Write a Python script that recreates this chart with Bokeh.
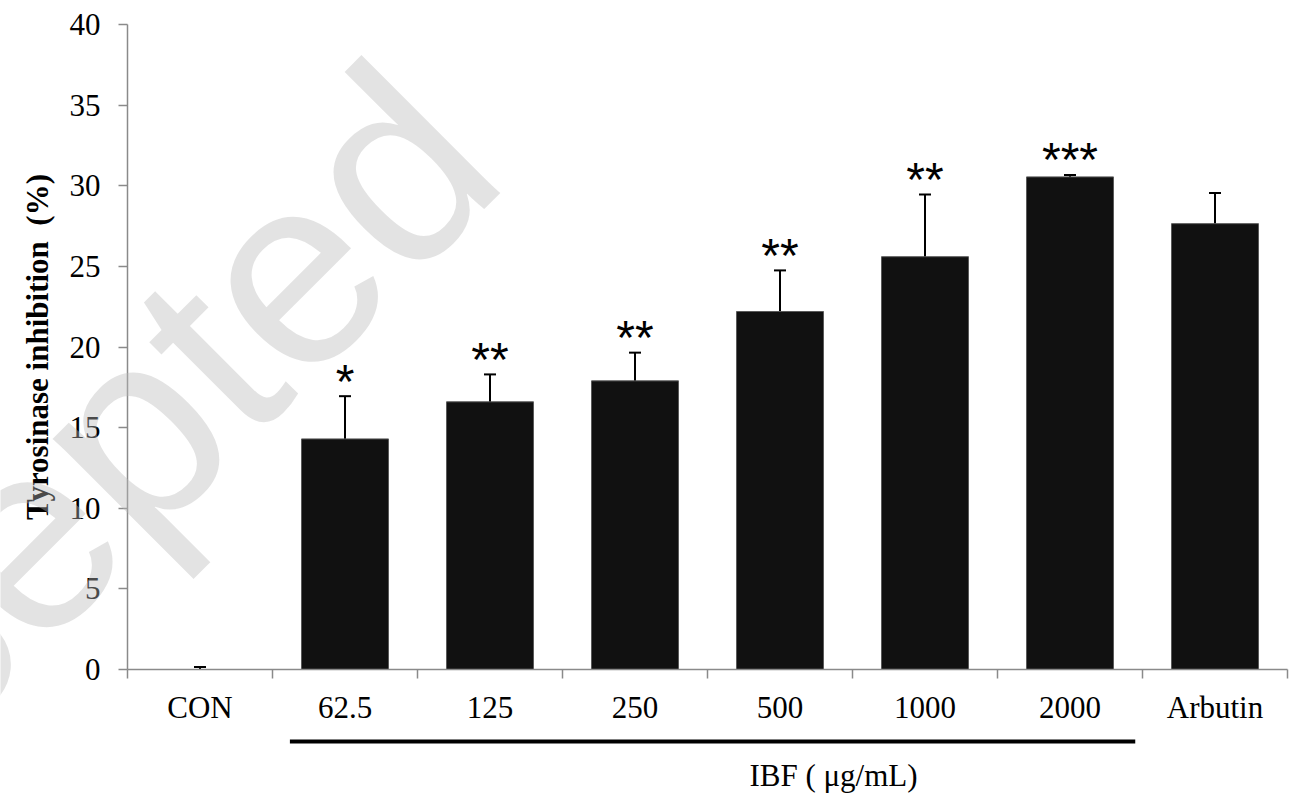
import numpy as np
from bokeh.plotting import figure
from bokeh.models import Range1d, FixedTicker, ColumnDataSource, Whisker, TeeHead, Label
from bokeh.embed import file_html
from bokeh.resources import INLINE
from bokeh.core.properties import value

# ---- data ----
categories = ["CON", "62.5", "125", "250", "500", "1000", "2000", "Arbutin"]
inhibition = [0.0, 14.3, 16.6, 17.9, 22.2, 25.6, 30.55, 27.65]
error = [0.15, 2.65, 1.7, 1.75, 2.55, 3.85, 0.12, 1.9]
significance = ["", "*", "**", "**", "**", "**", "***", ""]
y_ticks = [0, 5, 10, 15, 20, 25, 30, 35, 40]
group_members = ["62.5", "125", "250", "500", "1000", "2000"]
group_label = "IBF ( μg/mL)"
y_label = "Tyrosinase inhibition\u00a0 (%)"

SERIF = "Liberation Serif"
SANS = "Liberation Sans"
AXIS_GRAY = "#8a8a8a"

# ---- page layout (pixels) ----
W, H = 1307, 795
LEFT, RIGHT, TOP, BOTTOM = 127, 20, 24, 126      # plot-area margins
Y_MAX = 40

n = len(categories)
px_per_x = (W - LEFT - RIGHT) / n
px_per_y = (H - TOP - BOTTOM) / Y_MAX

def px_to_y(py):            # page pixel row -> data y
    return (H - BOTTOM - py) / px_per_y

def px_to_x(px):            # page pixel column -> data x
    return (px - LEFT) / px_per_x

centers = np.arange(n) + 0.5
boundaries = list(range(n + 1))
upper = [v + e for v, e in zip(inhibition, error)]
lower = [max(v - e, 0) for v, e in zip(inhibition, error)]

src = ColumnDataSource(dict(x=centers, top=inhibition, upper=upper, lower=lower, sig=significance))

p = figure(width=W, height=H,
           x_range=Range1d(px_to_x(0), px_to_x(W)),
           y_range=Range1d(px_to_y(H), px_to_y(0)),
           output_backend="svg", toolbar_location=None,
           min_border_left=0, min_border_right=0, min_border_top=0, min_border_bottom=0)
p.outline_line_color = None
p.xgrid.visible = False
p.ygrid.visible = False
p.background_fill_color = "white"
p.border_fill_color = "white"

p.vbar(x="x", top="top", width=0.6, source=src, fill_color="#111111",
       line_color="#5a5a5a", line_width=1)

wh = Whisker(base="x", upper="upper", lower="lower", source=src,
             line_color="black", line_width=2,
             upper_head=TeeHead(size=12, line_width=2, line_color="black"),
             lower_head=None)
p.add_layout(wh)

p.text(x="x", y="upper", text="sig", source=src, text_font=value(SANS),
       text_font_size="48px", text_align="center", text_baseline="alphabetic",
       y_offset=-15, text_color="black")

# x axis at y = 0: labels at category centres, tick marks at category boundaries
xa = p.xaxis[0]
xa.fixed_location = 0
xa.bounds = (0, n)
xa.ticker = FixedTicker(ticks=list(centers), minor_ticks=boundaries)
xa.major_label_overrides = {float(c): lab for c, lab in zip(centers, categories)}
xa.major_tick_out = 0
xa.major_tick_in = 0
xa.minor_tick_out = 9
xa.minor_tick_in = 0
xa.minor_tick_line_color = AXIS_GRAY
xa.minor_tick_line_width = 1.5
xa.axis_line_color = AXIS_GRAY
xa.axis_line_width = 1.5
xa.major_label_standoff = 11
xa.major_label_text_font = SERIF
xa.major_label_text_font_size = "31px"
xa.major_label_text_color = "black"

ya = p.yaxis[0]
ya.fixed_location = 0
ya.bounds = (0, Y_MAX)
ya.ticker = FixedTicker(ticks=y_ticks, minor_ticks=[])
ya.major_tick_out = 9
ya.major_tick_in = 0
ya.major_tick_line_color = AXIS_GRAY
ya.major_tick_line_width = 1.5
ya.minor_tick_line_color = None
ya.axis_line_color = AXIS_GRAY
ya.axis_line_width = 1.5
ya.major_label_standoff = 18
ya.major_label_text_font = SERIF
ya.major_label_text_font_size = "31px"
ya.major_label_text_color = "black"
ya.axis_label = y_label
ya.axis_label_text_font = SERIF
ya.axis_label_text_font_size = "31px"
ya.axis_label_text_font_style = "bold"
ya.axis_label_text_color = "black"
ya.axis_label_standoff = 12

# group bracket line and group label under the IBF categories
first = categories.index(group_members[0])
last = categories.index(group_members[-1])
line_y = px_to_y(741)
p.segment(x0=[first + 0.12], x1=[last + 1 - 0.05], y0=[line_y], y1=[line_y],
          line_color="black", line_width=4)
p.text(x=[px_to_x(833)], y=[px_to_y(775)], text=[group_label], text_font=value(SERIF),
       text_font_size="31px", text_align="center", text_baseline="middle",
       text_color="black")

# faint "Accepted" watermark
wm = Label(x=px_to_x(-350), y=px_to_y(910), x_units="data", y_units="data", text="Accepted",
           angle=np.pi / 4, text_font=SANS, text_font_size="270px",
           text_color="#b8b8b8", text_alpha=0.4, text_align="left",
           text_baseline="alphabetic", level="overlay")
p.add_layout(wm)

open("out.html", "w").write(file_html(p, INLINE))
